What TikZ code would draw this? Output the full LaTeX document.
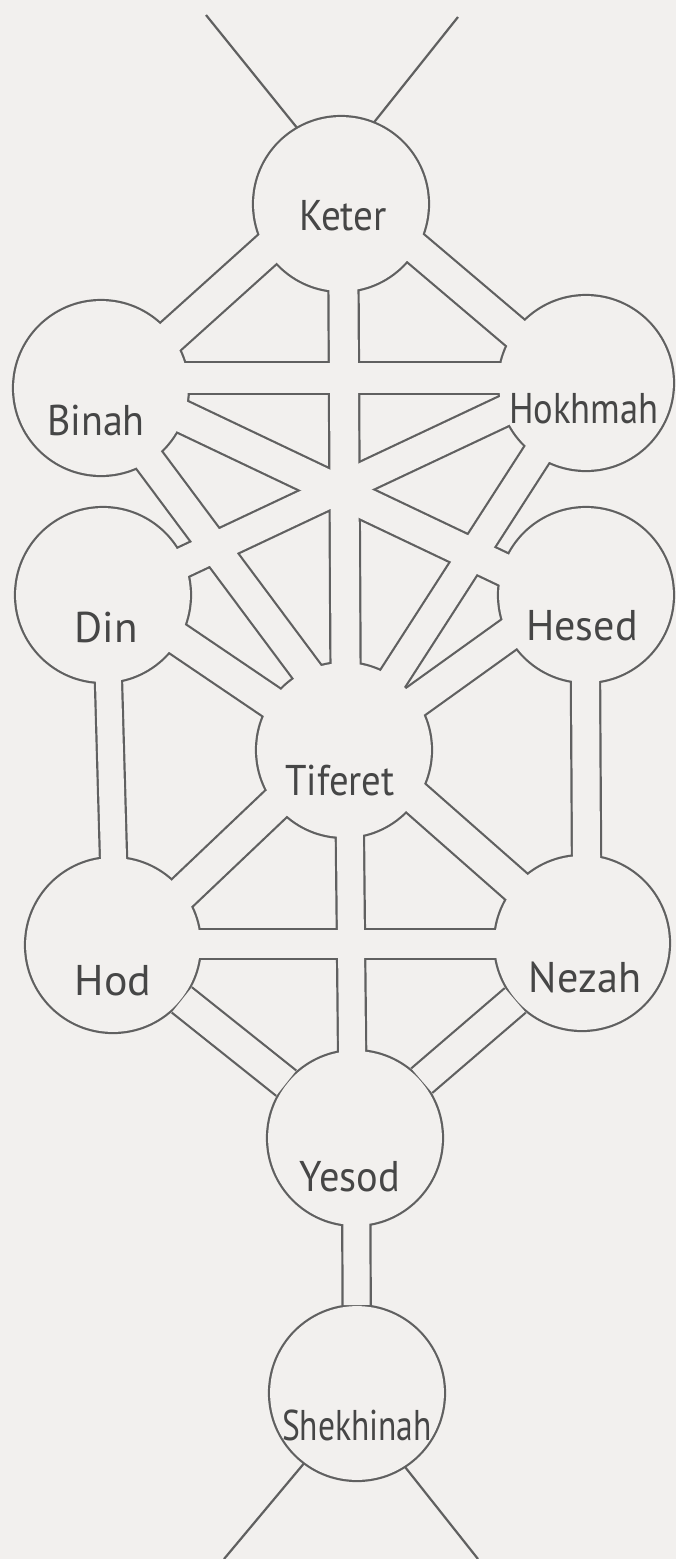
\documentclass[tikz,border=0pt]{standalone}
\usepackage{fontspec}
\usepackage{graphicx}
\usetikzlibrary{calc}
\newfontfamily\labfont{PT Sans}
\newcommand\hsq[2]{\scalebox{#1}[1]{#2}}
\definecolor{paper}{RGB}{242,240,238}
\definecolor{ink}{RGB}{96,96,96}
\definecolor{txt}{RGB}{70,70,70}
\begin{document}
\begin{tikzpicture}[x=0.5pt,y=-0.5pt,
  sef/.style={circle,minimum size=88pt,inner sep=0pt,outer sep=0pt},
  lab/.style={anchor=base,inner sep=0pt,text=txt,font=\labfont\fontsize{21.5pt}{21.5pt}\selectfont},
  ln/.style={draw=ink,line width=1.1pt},
]
\fill[paper] (0,0) rectangle (676,1559);
\useasboundingbox (0,0) rectangle (676,1559);
% sefirot
\node[sef] (K) at (341,204) {};
\node[sef] (B) at (101,388) {};
\node[sef] (H) at (586,383) {};
\node[sef] (D) at (103,595) {};
\node[sef] (C) at (586,595) {};
\node[sef] (T) at (344,750) {};
\node[sef] (O) at (113,945) {};
\node[sef] (N) at (582,943) {};
\node[sef] (Y) at (355,1138) {};
\node[sef] (S) at (357,1393) {};
\def\channels{%
 {($(K)+(2,0)$)}/{($(T)+(2,0)$)}/28,
 {($(K)+(-51,25)$)}/{($(B)+(39,-24)$)}/32,
 {($(K)+(59,31)$)}/{($(H)+(-41,-25)$)}/30,
 {($(B)+(0,-10)$)}/{($(H)+(0,-5)$)}/30,
 {($(B)+(-4,2)$)}/{($(T)+(-1,-30)$)}/29,
 {($(H)+(-3,0)$)}/{($(T)+(22,-30)$)}/28,
 {($(B)+(19,-1)$)}/{($(C)+(-16,6)$)}/31,
 {($(H)+(-16,-3)$)}/{($(D)+(17,-3)$)}/29,
 {($(D)+(7,-2)$)}/{($(T)+(-14,-8)$)}/31,
 {($(C)+(-11,-8)$)}/{($(T)+(11,-5)$)}/31,
 {($(D)+(3,0)$)}/{($(O)+(3,0)$)}/25,
 {($(C)+(-1,0)$)}/{($(N)+(5,0)$)}/27,
 {($(T)+(-24,12)$)}/{($(O)+(27,-12)$)}/32,
 {($(T)+(16,-1)$)}/{($(N)+(-22,-18)$)}/32,
 {($(T)+(5,0)$)}/{($(Y)+(-2,0)$)}/26,
 {($(O)+(0,-1)$)}/{($(N)+(0,1)$)}/28,
 {(O)}/{(Y)}/30,
 {(N)}/{(Y)}/30,
 {($(Y)+(1,0)$)}/{(S)}/26}
% dark layer
\foreach \a/\b/\w in \channels {
  \pgfmathsetmacro\dw{\w*0.5+2.2}
  \draw[ink,line width=\dw pt] \a -- \b;
}
\foreach \n in {K,B,H,D,C,T,O,N,Y,S}
  \fill[ink] (\n) circle[radius=44.55pt];
% light layer
\foreach \a/\b/\w in \channels {
  \pgfmathsetmacro\lw{\w*0.5}
  \draw[paper,line width=\lw pt] \a -- \b;
}
\foreach \n in {K,B,H,D,C,T,O,N,Y,S}
  \fill[paper] (\n) circle[radius=43.45pt];
% labels
\node[lab] (lK) at (343,230) {\hsq{0.91}{Keter}};
\node[lab] (lB) at (96,435) {\hsq{0.93}{Binah}};
\node[lab] (lH) at (584,423) {\hsq{0.85}{Hokhmah}};
\node[lab] (lD) at (106,642) {\hsq{1.0}{Din}};
\node[lab] (lC) at (582,640) {\hsq{0.98}{Hesed}};
\node[lab] (lT) at (340,795) {\hsq{0.9}{Tiferet}};
\node[lab] (lO) at (113,995) {\hsq{1.02}{Hod}};
\node[lab] (lN) at (585,992) {\hsq{0.98}{Nezah}};
\node[lab] (lY) at (350,1191) {\hsq{0.94}{Yesod}};
\node[lab] (lS) at (357,1440) {\hsq{0.78}{Shekhinah}};
% free lines
\coordinate (tl) at (206,15);
\coordinate (tr) at (458,17);
\coordinate (bl) at (224,1559);
\coordinate (br) at (478,1559);
\draw[ln] (tl) -- (K.120);
\draw[ln] (tr) -- (K.68);
\draw[ln] (S.233) -- (bl);
\draw[ln] (S.303) -- (br);
\end{tikzpicture}
\end{document}
